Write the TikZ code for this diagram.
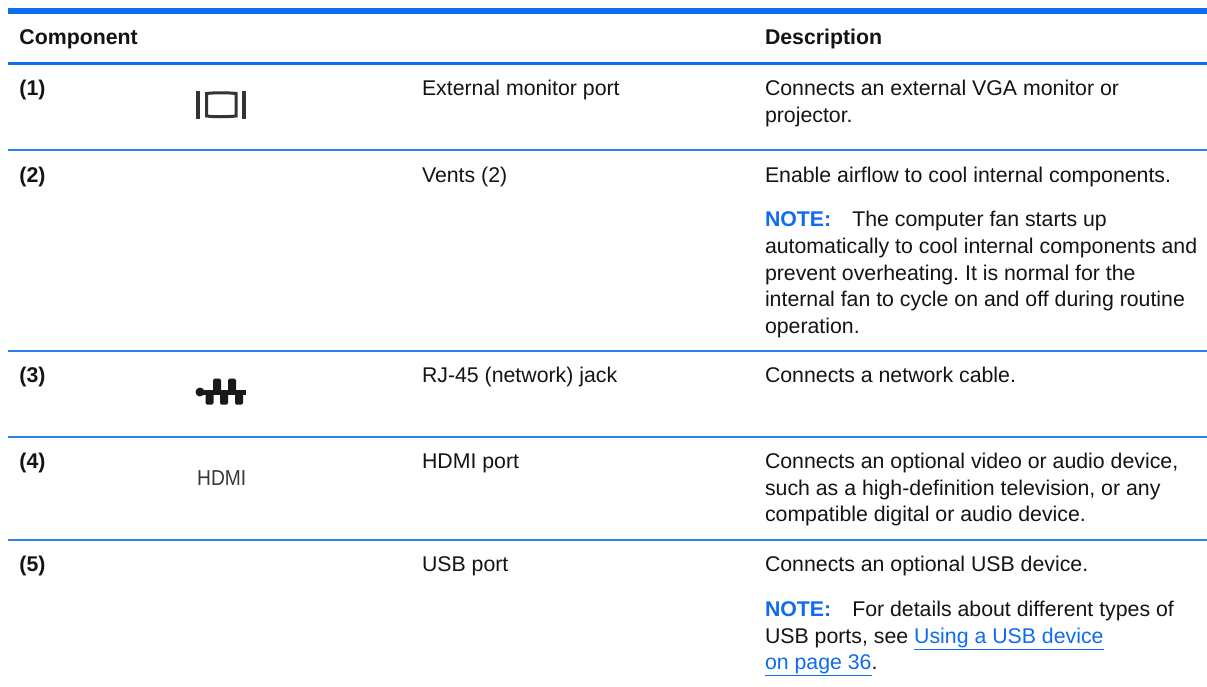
\documentclass[tikz,border=0pt]{standalone}
\usepackage{fontspec}
\setmainfont{Liberation Sans}
\frenchspacing
\definecolor{hpblue}{HTML}{0F6BF0}
\definecolor{rowblue}{HTML}{2F7DEE}
\newcommand{\bodyfs}{\fontsize{21.3}{26}\selectfont}
\newcommand{\nt}{\textcolor{hpblue}{\textbf{NOTE:}}\hspace{21pt}}
\tikzset{
  txt/.style={anchor=base west,inner sep=0pt,outer sep=0pt,font=\bodyfs,text=black!92},
  bld/.style={txt,font=\bodyfs\bfseries},
  rowline/.style={draw=rowblue,line width=1.5pt},
  icon/.style={draw=black!80,line cap=butt}
}
\begin{document}
\begin{tikzpicture}[x=1pt,y=-1pt]
\useasboundingbox (0,0) rectangle (1207,686);
\fill[white] (0,0) rectangle (1207,686);
% rules
\coordinate (L0) at (8,10.7); \coordinate (R0) at (1207,10.7);
\draw[draw=hpblue,line width=5.6pt] (L0) -- (R0);
\coordinate (L1) at (8,63); \coordinate (R1) at (1207,63);
\draw[draw=hpblue,line width=3pt] (L1) -- (R1);
\foreach \yy in {150,351,437,540}{\draw[rowline] (8,\yy) -- (1207,\yy);}
% header
\node[bld] (h1) at (19.5,44) {Component};
\node[bld] (h2) at (765,44) {Description};
% col 1
\node[bld] (n1) at (19.5,95) {(1)};
\node[bld] (n2) at (19.5,182) {(2)};
\node[bld] (n3) at (19.5,382) {(3)};
\node[bld] (n4) at (19.5,468) {(4)};
\node[bld] (n5) at (19.5,571) {(5)};
% col 3
\node[txt] (c1) at (422,95) {External monitor port};
\node[txt] (c2) at (422,182) {Vents (2)};
\node[txt] (c3) at (422,382) {RJ-45 (network) jack};
\node[txt] (c4) at (422,468) {HDMI port};
\node[txt] (c5) at (422,571) {USB port};
% description
\node[txt] (d1a) at (765,95) {Connects an external VGA monitor or};
\node[txt] (d1b) at (765,122) {projector.};
\node[txt] (d2) at (765,182) {Enable airflow to cool internal components.};
\node[txt] (d2a) at (765,226) {\nt The computer fan starts up};
\node[txt] (d2b) at (765,253) {automatically to cool internal components and};
\node[txt] (d2c) at (765,280) {prevent overheating. It is normal for the};
\node[txt] (d2d) at (765,306) {internal fan to cycle on and off during routine};
\node[txt] (d2e) at (765,333) {operation.};
\node[txt] (d3) at (765,382) {Connects a network cable.};
\node[txt] (d4a) at (765,468) {Connects an optional video or audio device,};
\node[txt] (d4b) at (765,495) {such as a high-definition television, or any};
\node[txt] (d4c) at (765,521) {compatible digital or audio device.};
\node[txt] (d5) at (765,571) {Connects an optional USB device.};
\node[txt] (d5a) at (765,616) {\nt For details about different types of};
\node[txt] (d5b) at (765,643) {USB ports, see \textcolor{hpblue}{\underline{Using a USB device}}};
\node[txt] (d5c) at (765,669) {\textcolor{hpblue}{\underline{on page 36}}.};
% monitor icon
\draw[icon,line width=3.4pt] (198,90.5) -- (198,118.5);
\draw[icon,line width=3.4pt] (244,90.5) -- (244,118.5);
\draw[icon,line width=3pt] (206.5,93.5) .. controls (215,92.5) and (227,92.5) .. (236,93.5) -- (236,116) .. controls (227,117) and (215,117) .. (206.5,116) -- cycle;
% RJ-45 icon
\draw[draw=black!90,line width=5pt] (200,392) -- (246,392);
\fill[black!90] (200,392) circle (4.5);
\foreach \xx in {217,232}{\fill[black!90,rounded corners=1.5pt] (\xx-4,378.5) rectangle (\xx+4,392);}
\foreach \xx in {209.5,224,239}{\fill[black!90,rounded corners=1.5pt] (\xx-4,392) rectangle (\xx+4,404.5);}
% HDMI icon
\node[anchor=base west,inner sep=0pt,font=\fontsize{20}{20}\selectfont,text=black!78] (hdmi) at (197,485) {\scalebox{0.96}[1.08]{HDMI}};
\end{tikzpicture}
\end{document}
